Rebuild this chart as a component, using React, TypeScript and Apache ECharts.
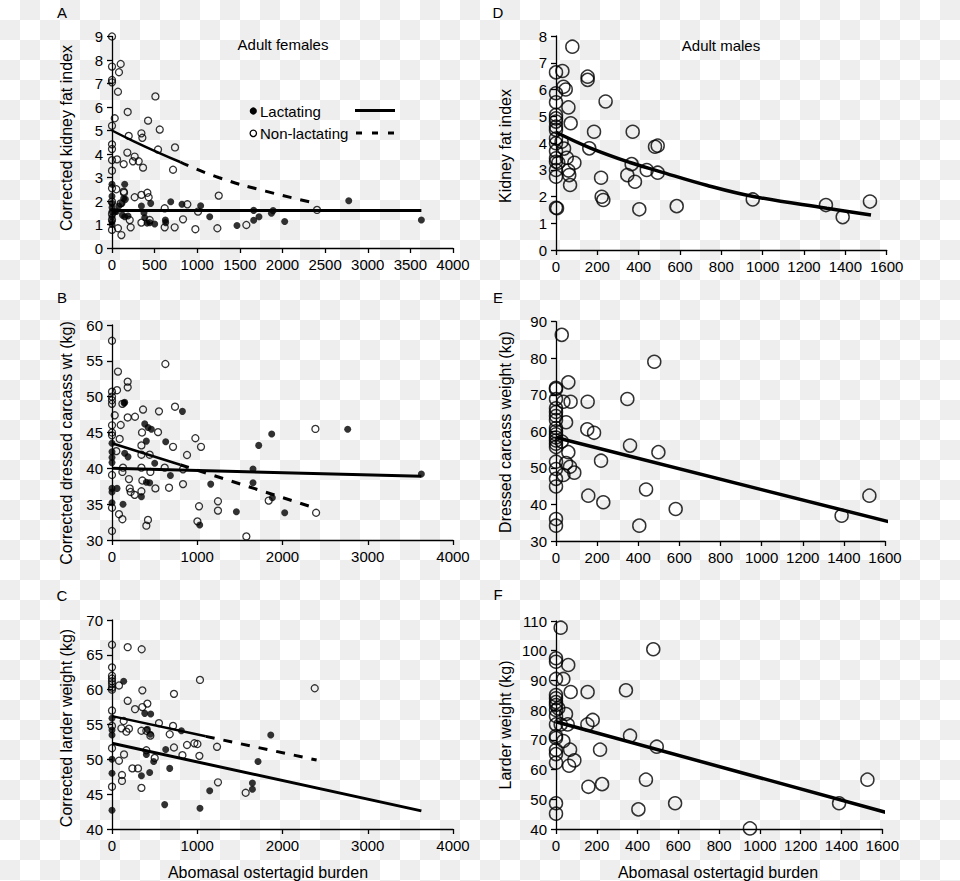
import React, { useEffect, useRef } from "react";
import * as echarts from "echarts";

// ---------- data (x = abomasal ostertagid burden) ----------
const lactA = [[0,2.71],[0,2.2],[0,1.9],[0,1.72],[0,1.55],[0,1.33],[0,1.13],[0,1.0],[32,1.54],[51,1.55],[79,1.79],[117,1.9],[122,1.4],[137,2.11],[149,2.71],[149,1.33],[157,2.07],[188,1.36],[345,1.79],[375,1.5],[384,1.29],[411,1.06],[442,1.08],[454,1.9],[501,1.02],[626,1.19],[630,1.08],[689,1.97],[821,1.86],[1040,1.8],[1146,1.33],[1466,0.96],[1662,1.18],[1662,1.6],[1724,1.33],[1870,1.48],[1890,1.59],[2026,1.13],[2777,2.01],[3629,1.19]];
const nonLactA = [[0,9.0],[0,7.72],[102,7.83],[82,7.48],[0,7.15],[0,7.05],[70,6.65],[509,6.45],[32,5.52],[184,5.79],[423,5.42],[0,5.2],[560,5.04],[345,4.88],[356,4.69],[196,4.77],[0,4.41],[0,4.21],[540,4.19],[739,4.28],[180,4.06],[0,3.74],[59,3.77],[137,3.57],[246,3.69],[266,3.89],[313,3.69],[364,3.42],[716,3.33],[0,3.29],[0,2.54],[51,2.5],[137,2.4],[141,2.35],[415,2.35],[345,2.26],[266,2.16],[430,2.16],[1252,2.23],[0,1.97],[102,1.9],[884,1.86],[618,1.69],[1009,1.55],[2405,1.62],[0,1.45],[0,1.2],[208,1.19],[345,1.08],[442,1.19],[618,0.88],[735,0.88],[833,1.22],[978,0.8],[1236,0.84],[1576,0.98],[70,0.84],[219,0.88],[110,0.55],[0,0.77]];
const lactB = [[141,49.1],[149,49.2],[826,47.95],[384,46.2],[423,45.7],[462,45.45],[0,43.5],[403,43.8],[630,43.7],[1721,43.2],[1873,44.8],[2765,45.45],[149,42.1],[188,41.6],[0,42.3],[0,41.5],[0,40.8],[501,40.7],[685,39.0],[1654,39.9],[3629,39.2],[1654,38.0],[1158,37.8],[0,37.2],[59,37.2],[0,36.7],[345,36.05],[403,38.05],[442,38.0],[1881,35.9],[0,35.2],[129,35.0],[1459,33.95],[2026,33.8],[1029,32.1]];
const nonLactB = [[0,57.8],[626,54.56],[70,53.5],[184,52.1],[184,51.3],[0,50.7],[59,50.9],[0,50.0],[0,49.5],[0,49.0],[122,49.0],[364,48.2],[551,47.95],[739,48.6],[32,47.4],[184,47.1],[270,47.2],[102,46.05],[0,46.0],[352,45.0],[540,45.05],[2386,45.5],[0,45.0],[0,44.6],[90,44.1],[978,44.2],[1044,43.0],[716,43.0],[345,43.2],[880,41.86],[442,41.9],[345,41.9],[51,42.4],[345,40.1],[450,39.5],[618,40.1],[833,39.86],[129,40.1],[122,39.5],[0,39.07],[199,38.5],[356,38.3],[509,37.2],[669,37.3],[833,37.8],[208,37.2],[219,36.7],[266,36.3],[345,36.8],[0,34.5],[82,33.6],[122,32.9],[422,32.8],[403,32.0],[0,31.26],[1021,34.7],[1002,32.6],[1243,35.4],[1243,34.1],[1576,30.5],[1838,35.5],[2394,33.8]];
const lactC = [[137,61.2],[384,56.6],[454,56.5],[0,55.9],[0,54.2],[0,53.5],[415,54.3],[450,53.6],[814,54.1],[630,51.4],[403,50.7],[489,49.7],[0,50.0],[1862,53.5],[1713,49.7],[677,48.7],[0,48.0],[345,47.65],[442,48.1],[0,42.7],[618,43.5],[1032,42.97],[1146,45.5],[1647,46.6],[1647,45.7]];
const nonLactC = [[0,66.45],[184,66.1],[348,65.8],[0,63.2],[0,62.0],[0,61.6],[0,61.2],[0,60.8],[0,60.3],[0,60.0],[82,60.6],[1032,61.4],[356,59.9],[2378,60.2],[727,59.4],[184,58.4],[270,57.2],[356,57.5],[415,58.0],[0,57.0],[137,55.5],[110,54.45],[169,53.97],[199,54.4],[0,54.8],[345,54.1],[403,54.1],[450,53.4],[551,55.2],[716,54.8],[677,53.6],[0,51.6],[141,50.7],[82,49.8],[239,48.7],[305,48.7],[117,47.75],[117,46.9],[0,46.07],[345,45.9],[403,51.3],[501,50.2],[727,51.7],[826,50.6],[880,52.06],[966,52.3],[1002,52.2],[1025,50.5],[1232,51.8],[1243,46.7],[1568,45.2]];
const malesD = [[79,7.6],[0,6.64],[31,6.69],[153,6.48],[153,6.36],[36,6.1],[47,6.0],[0,5.86],[0,5.52],[60,5.33],[240,5.55],[0,5.05],[0,4.92],[0,4.8],[0,4.61],[0,4.49],[0,4.17],[0,3.99],[0,3.7],[0,3.43],[0,3.3],[0,2.99],[0,2.74],[0,1.58],[5,1.56],[71,4.74],[184,4.42],[371,4.42],[27,4.05],[161,3.8],[39,3.79],[479,3.86],[492,3.9],[52,3.45],[89,3.26],[11,3.26],[60,2.97],[64,2.8],[68,2.43],[366,3.21],[345,2.8],[382,2.55],[439,2.99],[492,2.89],[218,2.7],[221,1.99],[229,1.87],[403,1.52],[584,1.64],[952,1.89],[1306,1.68],[1387,1.23],[1519,1.81]];
const malesE = [[28,86.4],[478,79.05],[0,71.9],[0,71.6],[60,73.4],[0,68.85],[36,68.1],[71,68.1],[154,68.1],[347,68.85],[0,66.3],[0,65.3],[0,64.2],[0,63.1],[49,62.5],[0,60.9],[0,60.0],[0,59.2],[0,58.3],[0,57.5],[0,56.6],[0,55.7],[152,60.55],[185,59.6],[28,57.2],[360,56.1],[498,54.3],[60,54.3],[219,51.97],[0,51.7],[49,51.3],[68,50.3],[89,48.7],[36,48.06],[0,49.7],[0,47.0],[0,44.9],[157,42.4],[230,40.6],[438,44.1],[582,38.75],[405,34.2],[0,36.0],[0,34.2],[1389,36.9],[1524,42.4]];
const malesF = [[23,107.75],[477,100.5],[0,97.45],[0,96.3],[60,95.2],[0,90.5],[36,90.5],[72,86.1],[155,86.1],[343,86.7],[0,85.1],[0,84.0],[0,82.7],[0,81.7],[0,80.05],[11,80.6],[49,78.7],[180,76.7],[0,78.0],[23,75.2],[57,75.2],[154,75.2],[0,75.2],[0,71.3],[0,70.6],[363,71.4],[36,69.6],[494,67.7],[216,66.7],[69,66.7],[0,66.6],[0,65.2],[0,62.3],[90,63.1],[64,61.3],[159,54.2],[226,55.1],[441,56.6],[1527,56.6],[0,48.65],[0,45.15],[404,46.6],[584,48.65],[951,40.2],[1388,48.65]];

// fitted lines
const lactFitA = [[0,1.6],[3629,1.6]];
const nonLactFitA = [[0,5.0],[250,4.55],[550,4.05],[800,3.66],[1250,3.0],[1800,2.42],[2400,1.9]];
const lactFitB = [[0,40.0],[3629,38.9]];
const nonLactFitB = [[0,43.5],[800,40.5],[2400,34.4]];
const lactFitC = [[0,52.3],[3629,42.6]];
const nonLactFitC = [[0,56.2],[1100,53.3],[2400,49.9]];
const fitD = [[0,4.4],[164,3.82],[358,3.27],[495,2.95],[729,2.42],[955,2.0],[1310,1.56],[1524,1.31]];
const fitE = [[0,58.3],[1630,35.1]];
const fitF = [[0,76.1],[1634,45.3]];
// x position up to which the non-lactating fit is drawn solid (then dashed)
const solidUntil = [800, 800, 1100];

// axis ranges
const yRanges = [[0,9,1],[30,60,5],[40,70,5],[0,8,1],[30,90,10],[40,110,10]];
const xRanges = [[0,4000,500],[0,4000,1000],[0,4000,1000],[0,1600,200],[0,1600,200],[0,1600,200]];

const panelLetters = ["A","B","C","D","E","F"];
const yNames = ["Corrected kidney fat index","Corrected dressed carcass wt (kg)","Corrected larder weight (kg)","Kidney fat index","Dressed carcass weight (kg)","Larder weight (kg)"];
const xName = "Abomasal ostertagid burden";
const titles = ["Adult females","Adult males"];
const legendNames = ["Lactating","Non-lactating"];

const FONT = '"Liberation Sans", Arial, Helvetica, sans-serif';

export default function App() {
  const ref = useRef<HTMLDivElement>(null);
  useEffect(() => {
    if (!ref.current) return;
    const chart = echarts.init(ref.current, null, { renderer: "svg" });

    const grids = [
      { left: 112, top: 36.5, width: 341, height: 211.5 },
      { left: 112, top: 325, width: 341, height: 215 },
      { left: 112, top: 620, width: 341, height: 209 },
      { left: 556, top: 36, width: 330.7, height: 214 },
      { left: 556, top: 321.7, width: 329, height: 219.3 },
      { left: 556, top: 621, width: 326.3, height: 208 },
    ];

    const axisCommon = {
      type: "value",
      axisLine: { show: true, onZero: false, lineStyle: { color: "#000", width: 1.3 } },
      axisTick: { show: true, length: 5, lineStyle: { color: "#000", width: 1.3 } },
      axisLabel: { color: "#000", fontSize: 15, fontFamily: FONT, margin: 9, formatter: (v: number) => String(v) },
      splitLine: { show: false },
    };

    const xAxis = xRanges.map((r, i) => ({ ...axisCommon, gridIndex: i, min: r[0], max: r[1], interval: r[2] }));
    const yAxis = yRanges.map((r, i) => ({ ...axisCommon, gridIndex: i, min: r[0], max: r[1], interval: r[2] }));

    const smallFilled = { color: "#000" };
    const smallOpen = { color: "rgba(255,255,255,0)", borderColor: "#000", borderWidth: 1.3 };
    const bigOpen = { color: "rgba(255,255,255,0)", borderColor: "#000", borderWidth: 1.5 };

    const scatter = (name: string, data: number[][], idx: number, size: number, style: any) => ({
      type: "scatter", name, data, xAxisIndex: idx, yAxisIndex: idx,
      symbol: "circle", symbolSize: size, itemStyle: style, silent: true, z: 2,
    });
    const line = (name: string, data: number[][], idx: number, width: number, dash: any, smooth: any = false) => ({
      type: "line", name, data, xAxisIndex: idx, yAxisIndex: idx, showSymbol: false, symbol: "none",
      smooth, clip: false, silent: true, z: 3,
      lineStyle: { color: "#000", width, type: dash },
    });

    const lactData = [lactA, lactB, lactC];
    const nonLactData = [nonLactA, nonLactB, nonLactC];
    const lactFits = [lactFitA, lactFitB, lactFitC];
    const nonLactFits = [nonLactFitA, nonLactFitB, nonLactFitC];
    const maleData = [malesD, malesE, malesF];
    const maleFits = [fitD, fitE, fitF];

    const series: any[] = [];
    for (let i = 0; i < 3; i++) {
      series.push(scatter("Non-lactating", nonLactData[i], i, 7, smallOpen));
      series.push(scatter("Lactating", lactData[i], i, 7, smallFilled));
      series.push(line("Lactating fit", lactFits[i], i, 3, "solid"));
      const f = nonLactFits[i];
      const solidPart = f.filter((p) => p[0] <= solidUntil[i]);
      const dashPart = f.filter((p) => p[0] >= solidUntil[i]);
      series.push(line("Non-lactating fit", solidPart, i, 2.5, "solid", i === 0));
      series.push(line("Non-lactating fit dashed", dashPart, i, 3, [9, 9], i === 0));
    }
    for (let i = 0; i < 3; i++) {
      series.push(scatter("Males", maleData[i], i + 3, 13, bigOpen));
      series.push(line("Males fit", maleFits[i], i + 3, 3.5, "solid", i === 0 ? 0.4 : false));
    }

    const txt = (text: string, x: number, y: number, size = 15, align = "center", rotation = 0) => ({
      type: "text", x, y, rotation, silent: true,
      style: { text, fill: "#000", font: `${size}px ${FONT}`, textAlign: align, textVerticalAlign: "middle" },
    });

    const letterPos = [[62, 12], [62, 297], [62, 595], [498, 12], [498, 297], [498, 594]];
    const yNamePos = [[66, 138], [66, 443], [66, 728], [505, 146], [505, 432], [505, 725]];

    const graphic: any[] = [];
    panelLetters.forEach((l, i) => graphic.push(txt(l, letterPos[i][0], letterPos[i][1])));
    yNames.forEach((n, i) => graphic.push(txt(n, yNamePos[i][0], yNamePos[i][1], 16, "center", Math.PI / 2)));
    graphic.push(txt(xName, 268, 872, 16));
    graphic.push(txt(xName, 718, 872, 16));
    graphic.push(txt(titles[0], 283, 44.5));
    graphic.push(txt(titles[1], 721, 45.5));
    // legend
    graphic.push({ type: "circle", silent: true, shape: { cx: 253.3, cy: 111, r: 3.6 }, style: { fill: "#000" } });
    graphic.push(txt(legendNames[0], 260, 111, 15, "left"));
    graphic.push({ type: "line", silent: true, shape: { x1: 355, y1: 110.5, x2: 395, y2: 110.5 }, style: { stroke: "#000", lineWidth: 3 } });
    graphic.push({ type: "circle", silent: true, shape: { cx: 253.3, cy: 133.3, r: 3.2 }, style: { fill: "none", stroke: "#000", lineWidth: 1.3 } });
    graphic.push(txt(legendNames[1], 260, 133, 15, "left"));
    graphic.push({ type: "line", silent: true, shape: { x1: 356, y1: 133, x2: 394, y2: 133 }, style: { stroke: "#000", lineWidth: 3, lineDash: [6, 10] } });

    chart.setOption({
      animation: false,
      backgroundColor: "transparent",
      textStyle: { fontFamily: FONT },
      grid: grids.map((g) => ({ ...g, containLabel: false })),
      xAxis,
      yAxis,
      series,
      graphic,
    });
    return () => chart.dispose();
  }, []);

  return (
    <div
      ref={ref}
      style={{
        position: "absolute",
        left: 0,
        top: 0,
        width: 960,
        height: 881,
        backgroundColor: "#ffffff",
        backgroundImage: "repeating-conic-gradient(#eeeeee 0% 25%, #ffffff 0% 50%)",
        backgroundSize: "40px 40px",
      }}
    />
  );
}
